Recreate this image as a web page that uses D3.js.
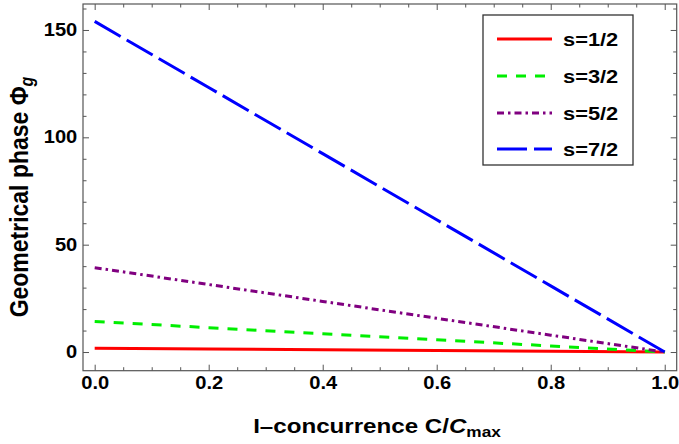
<!DOCTYPE html>
<html>
<head>
<meta charset="utf-8">
<script src="https://cdn.jsdelivr.net/npm/d3@7"></script>
<style>
  html, body { margin: 0; padding: 0; background: #fff; }
  svg text { font-family: "Liberation Sans", Arial, sans-serif; font-weight: bold; fill: #000; }
</style>
</head>
<body>
<svg id="chart" width="679" height="444"></svg>
<script>
// ---- data ----
const concurrence = [0, 0.2, 0.4, 0.6, 0.8, 1.0];
const phase_s1_2 = [1.8, 1.44, 1.08, 0.72, 0.36, 0];
const phase_s3_2 = [14.2, 11.36, 8.52, 5.68, 2.84, 0];
const phase_s5_2 = [39.3, 31.44, 23.58, 15.72, 7.86, 0];
const phase_s7_2 = [154.0, 123.2, 92.4, 61.6, 30.8, 0];
const seriesLabels = ["s=1/2", "s=3/2", "s=5/2", "s=7/2"];
const xTickValues = [0, 0.2, 0.4, 0.6, 0.8, 1.0];
const xTickLabels = ["0.0", "0.2", "0.4", "0.6", "0.8", "1.0"];
const yTickValues = [0, 50, 100, 150];
const yTickLabels = ["0", "50", "100", "150"];

// ---- styles ----
const colors = ["#ff0000", "#00ee00", "#800080", "#0000ff"];
const dashes = [null, "10,9", "7,4,2.5,4", "30,7"];
const SX = 1.15; // horizontal stretch of the reference text

const svg = d3.select("#chart");
const plot = { left: 83, right: 676.7, top: 4, bottom: 370.7 };

const x = d3.scaleLinear().domain([-0.0205, 1.021]).range([plot.left, plot.right]);
const y = d3.scaleLinear().domain([-8.7, 162.1]).range([plot.bottom, plot.top]);

const frameColor = "#555";

const xMinor = d3.range(0, 1.0001, 0.05).filter(v => !xTickValues.some(t => Math.abs(t - v) < 1e-9));
const yMinor = d3.range(0, 161, 10).filter(v => !yTickValues.includes(v));

function styleAxis(g) {
  g.selectAll(".domain").remove();
  g.selectAll(".tick line").attr("stroke", frameColor).attr("stroke-width", 1);
}

// bottom axis
const gxb = svg.append("g").attr("transform", `translate(0,${plot.bottom})`)
  .call(d3.axisBottom(x).tickValues(xTickValues).tickSize(-6).tickPadding(6)
    .tickFormat((d, i) => xTickLabels[i]));
styleAxis(gxb);
gxb.selectAll("text").attr("font-size", 17.5).attr("transform", `scale(${SX},1)`);
svg.append("g").attr("transform", `translate(0,${plot.bottom})`)
  .call(d3.axisBottom(x).tickValues(xMinor).tickSize(-3.5).tickFormat(""))
  .call(styleAxis);
// top axis
svg.append("g").attr("transform", `translate(0,${plot.top})`)
  .call(d3.axisTop(x).tickValues(xTickValues).tickSize(-6).tickFormat(""))
  .call(styleAxis);
svg.append("g").attr("transform", `translate(0,${plot.top})`)
  .call(d3.axisTop(x).tickValues(xMinor).tickSize(-3.5).tickFormat(""))
  .call(styleAxis);
// left axis
const gyl = svg.append("g").attr("transform", `translate(${plot.left},0)`)
  .call(d3.axisLeft(y).tickValues(yTickValues).tickSize(-6).tickPadding(5)
    .tickFormat((d, i) => yTickLabels[i]));
styleAxis(gyl);
gyl.selectAll("text").attr("font-size", 17.5).attr("transform", `scale(${SX},1)`);
svg.append("g").attr("transform", `translate(${plot.left},0)`)
  .call(d3.axisLeft(y).tickValues(yMinor).tickSize(-3.5).tickFormat(""))
  .call(styleAxis);
// right axis
svg.append("g").attr("transform", `translate(${plot.right},0)`)
  .call(d3.axisRight(y).tickValues(yTickValues).tickSize(-6).tickFormat(""))
  .call(styleAxis);
svg.append("g").attr("transform", `translate(${plot.right},0)`)
  .call(d3.axisRight(y).tickValues(yMinor).tickSize(-3.5).tickFormat(""))
  .call(styleAxis);

// frame
svg.append("rect")
  .attr("x", plot.left).attr("y", plot.top)
  .attr("width", plot.right - plot.left).attr("height", plot.bottom - plot.top)
  .attr("fill", "none").attr("stroke", frameColor).attr("stroke-width", 1.2);

// clip
svg.append("clipPath").attr("id", "clip").append("rect")
  .attr("x", plot.left).attr("y", plot.top)
  .attr("width", plot.right - plot.left).attr("height", plot.bottom - plot.top);

const allSeries = [phase_s1_2, phase_s3_2, phase_s5_2, phase_s7_2];
const line = d3.line().x(d => x(d[0])).y(d => y(d[1]));
const gLines = svg.append("g").attr("clip-path", "url(#clip)");
allSeries.forEach((vals, i) => {
  const pts = concurrence.map((c, j) => [c, vals[j]]);
  gLines.append("path").datum(pts)
    .attr("d", line)
    .attr("fill", "none")
    .attr("stroke", colors[i])
    .attr("stroke-width", 3)
    .attr("stroke-dasharray", dashes[i]);
});

// legend
const legend = svg.append("g");
legend.append("rect").attr("x", 483).attr("y", 15).attr("width", 150).attr("height", 150)
  .attr("fill", "#fff").attr("stroke", "#333").attr("stroke-width", 1.3);
const rowsY = [39, 76, 113, 149];
seriesLabels.forEach((lab, i) => {
  legend.append("line").attr("x1", 497).attr("x2", 552)
    .attr("y1", rowsY[i]).attr("y2", rowsY[i])
    .attr("stroke", colors[i]).attr("stroke-width", 3)
    .attr("stroke-dasharray", dashes[i]);
  legend.append("text")
    .attr("transform", `translate(563,${rowsY[i] + 7}) scale(${SX},1)`)
    .attr("font-size", 19)
    .text(lab);
});

// x title
const xt = svg.append("text")
  .attr("transform", `translate(377,433) scale(${SX},1)`)
  .attr("text-anchor", "middle")
  .attr("font-size", 21);
xt.append("tspan").text("I\u2013concurrence C/");
xt.append("tspan").attr("font-style", "italic").text("C");
xt.append("tspan").attr("font-size", 15).attr("dy", 4).text("max");

// y title
const yt = svg.append("text")
  .attr("transform", `translate(28,197) scale(${SX},1) rotate(-90)`)
  .attr("text-anchor", "middle")
  .attr("font-size", 23);
yt.append("tspan").text("Geometrical phase \u03A6");
yt.append("tspan").attr("font-style", "italic").attr("font-size", 16).attr("dy", 4).text("g");
</script>
</body>
</html>
